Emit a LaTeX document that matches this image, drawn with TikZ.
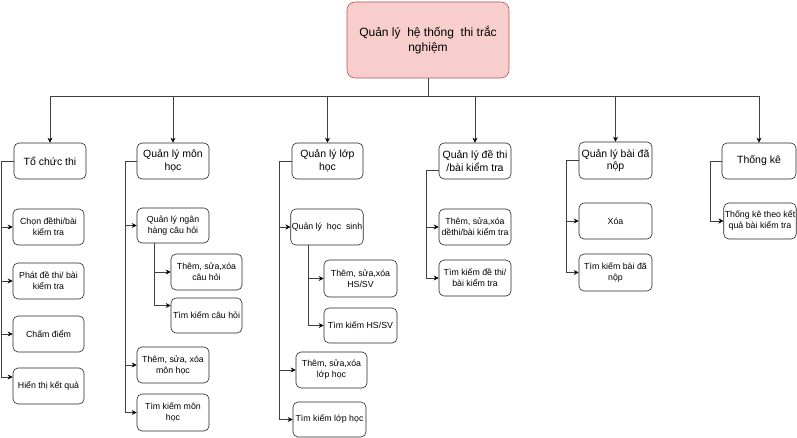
\documentclass[tikz,border=0pt]{standalone}
\usepackage{fontspec}
\setmainfont{Liberation Sans}
\usetikzlibrary{arrows.meta}
\definecolor{rootfill}{HTML}{F8CECC}
\definecolor{rootdraw}{HTML}{B85450}
\definecolor{linegray}{HTML}{404040}
\begin{document}
\begin{tikzpicture}[x=1pt,y=-1pt,
  box/.style={draw=black!85, rounded corners=5pt, fill=white, align=center, inner sep=1pt, line width=0.6pt},
  topbox/.style={box, font=\fontsize{10.5}{12.5}\selectfont, minimum width=72, minimum height=36},
  leaf/.style={box, font=\fontsize{8.8}{11}\selectfont, minimum width=72, minimum height=36},
  rootbox/.style={box, fill=rootfill, draw=rootdraw, font=\fontsize{12}{15}\selectfont, minimum width=162, minimum height=76, rounded corners=8pt},
  arr/.style={draw=linegray, line width=0.6pt, -{Stealth[length=5pt,width=5pt,black]}}
]
\useasboundingbox (0,0) rectangle (797,438);

\node[rootbox] (root) at (428,40) {Quản lý\ \ hệ thống\ \ thi trắc\\nghiệm};

\node[topbox] (t1) at (50,161) {Tổ chức thi};
\node[topbox] (t2) at (173,161) {Quản lý môn\\học};
\node[topbox, minimum width=71] (t3) at (327.5,161) {Quản lý lớp\\học};
\node[topbox] (t4) at (475,161) {Quản lý đề thi\\/bài kiểm tra};
\node[topbox, minimum width=73, minimum height=37] (t5) at (615.5,160.5) {Quản lý bài đã\\nộp};
\node[topbox, minimum width=74] (t6) at (759,161) {Thống kê};

\node[leaf, minimum width=71] (c1) at (48.5,227) {Chọn đềthi/bài\\kiểm tra};
\node[leaf, minimum width=71] (c2) at (48.5,281) {Phát đề thi/ bài\\kiểm tra};
\node[leaf, minimum width=71] (c3) at (48.5,334) {Chấm điểm};
\node[leaf, minimum width=71] (c4) at (48.5,386) {Hiển thị kết quả};

\node[leaf, minimum height=35] (m1) at (173,225.5) {Quản lý ngân\\hàng câu hỏi};
\node[leaf, minimum width=71] (m11) at (206.5,272) {Thêm, sửa,xóa\\câu hỏi};
\node[leaf, minimum width=71, minimum height=35] (m12) at (206.5,315.5) {Tìm kiếm câu hỏi};
\node[leaf] (m2) at (173,365) {Thêm, sửa, xóa\\môn học};
\node[leaf, minimum height=37] (m3) at (173,412.5) {Tìm kiếm môn\\học};

\node[leaf] (l1) at (327,227) {Quản lý\ \ học\ \ sinh};
\node[leaf, minimum width=73, minimum height=37] (l11) at (360.5,278.5) {Thêm, sửa,xóa\\HS/SV};
\node[leaf, minimum width=73, minimum height=35] (l12) at (360.5,325.5) {Tìm kiếm HS/SV};
\node[leaf, minimum width=71] (l2) at (331.5,370) {Thêm, sửa,xóa\\lớp học};
\node[leaf, minimum width=73, minimum height=35] (l3) at (329.5,419.5) {Tìm kiếm lớp học};

\node[leaf] (d1) at (475,227) {Thêm, sửa,xóa\\dềthi/bài kiểm tra};
\node[leaf] (d2) at (475,278) {Tìm kiếm đề thi/\\bài kiểm tra};

\node[leaf, minimum width=73] (b1) at (615.5,221) {Xóa};
\node[leaf, minimum width=73, minimum height=37] (b2) at (615.5,272.5) {Tìm kiếm bài đã\\nộp};

\node[leaf] (s1) at (760,221) {Thống kê theo kết\\quả bài kiểm tra};

% root to level 1
\foreach \t in {t1,t2,t3,t4,t5,t6}
  \draw[arr] (root.south) -- ++(0,18) -| (\t.north);

% Tổ chức thi
\draw[arr] (t1.west) -- ++(-12,0) |- (c1.west);
\draw[arr] (t1.west) -- ++(-12,0) |- (c2.west);
\draw[arr] (t1.west) -- ++(-12,0) |- (c3.west);
\draw[arr] (t1.west) -- ++(-12,0) |- ([yshift=9pt]c4.west);

% Quản lý môn học
\draw[arr] (t2.west) -- ++(-11,0) |- (m1.west);
\draw[arr] (t2.west) -- ++(-11,0) |- (m2.west);
\draw[arr] (t2.west) -- ++(-11,0) |- (m3.west);
\draw[arr] ([xshift=18pt]m1.south west) |- (m11.west);
\draw[arr] ([xshift=18pt]m1.south west) |- ([yshift=10pt]m12.west);

% Quản lý lớp học
\draw[arr] (t3.west) -- ++(-12,0) |- (l1.west);
\draw[arr] (t3.west) -- ++(-12,0) |- (l2.west);
\draw[arr] (t3.west) -- ++(-12,0) |- (l3.west);
\draw[arr] ([xshift=18pt]l1.south west) |- (l11.west);
\draw[arr] ([xshift=18pt]l1.south west) |- (l12.west);

% Quản lý đề thi
\draw[arr] ([yshift=-9pt]t4.west) -- ++(-12,0) |- (d1.west);
\draw[arr] ([yshift=-9pt]t4.west) -- ++(-12,0) |- (d2.west);

% Quản lý bài đã nộp
\draw[arr] (t5.west) -- ++(-12,0) |- (b1.west);
\draw[arr] (t5.west) -- ++(-12,0) |- (b2.west);

% Thống kê
\draw[arr] (t6.west) -- ++(-11,0) |- (s1.west);
\end{tikzpicture}
\end{document}
